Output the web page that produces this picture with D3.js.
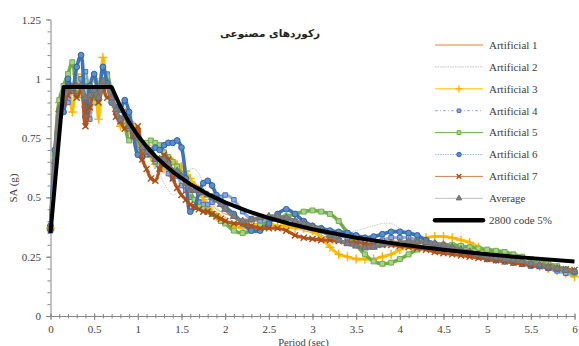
<!DOCTYPE html>
<html>
<head>
<meta charset="utf-8">
<script src="https://cdn.jsdelivr.net/npm/d3@7"></script>
<style>
  html, body { margin: 0; padding: 0; background: #fff; }
  svg { display: block; }
</style>
</head>
<body>
<svg id="chart" width="579" height="346"></svg>
<script>
// Spectral acceleration (g) vs period (s) for seven artificial records, their mean and the 2800 code spectrum
const periods = [
  0, 0.05, 0.1, 0.15, 0.2, 0.25, 0.3, 0.35, 0.4, 0.45, 0.5, 0.55, 0.6, 0.65, 0.7, 0.75, 0.8, 0.85, 0.9, 0.95,
  1.0, 1.05, 1.1, 1.15, 1.2, 1.25, 1.3, 1.35, 1.4, 1.45, 1.5, 1.55, 1.6, 1.65, 1.7, 1.75, 1.8, 1.85, 1.9, 1.95, 2.0,
  2.1, 2.2, 2.3, 2.4, 2.5, 2.6, 2.7, 2.8, 2.9, 3.0, 3.1, 3.2, 3.3, 3.4, 3.5, 3.6, 3.7, 3.8, 3.9, 4.0,
  4.1, 4.2, 4.3, 4.4, 4.5, 4.6, 4.7, 4.8, 4.9, 5.0, 5.1, 5.2, 5.3, 5.4, 5.5, 5.6, 5.7, 5.8, 5.9, 6.0
];

const artificial1 = [
  0.37, 0.64, 0.88, 0.95, 0.97, 0.93, 1.00, 0.96, 0.92, 0.98, 0.94, 0.90, 0.97, 0.99, 0.93, 0.86, 0.84, 0.88, 0.80, 0.82,
  0.77, 0.74, 0.70, 0.72, 0.66, 0.64, 0.68, 0.62, 0.60, 0.58, 0.57, 0.55, 0.53, 0.56, 0.54, 0.50, 0.48, 0.47, 0.45, 0.44, 0.43,
  0.42, 0.41, 0.42, 0.43, 0.42, 0.40, 0.38, 0.37, 0.36, 0.35, 0.34, 0.33, 0.32, 0.31, 0.30, 0.30, 0.31, 0.32, 0.32, 0.31,
  0.30, 0.30, 0.31, 0.31, 0.30, 0.29, 0.28, 0.28, 0.27, 0.26, 0.25, 0.24, 0.24, 0.23, 0.22, 0.21, 0.21, 0.20, 0.19, 0.18
];
const artificial2 = [
  0.36, 0.62, 0.86, 0.93, 0.95, 0.99, 0.94, 0.97, 1.01, 0.95, 0.92, 0.98, 0.94, 0.90, 0.95, 0.90, 0.86, 0.82, 0.85, 0.78,
  0.76, 0.72, 0.70, 0.66, 0.62, 0.60, 0.56, 0.53, 0.51, 0.52, 0.56, 0.60, 0.62, 0.62, 0.60, 0.56, 0.52, 0.49, 0.46, 0.44, 0.42,
  0.40, 0.39, 0.40, 0.41, 0.42, 0.42, 0.41, 0.40, 0.38, 0.37, 0.36, 0.35, 0.35, 0.35, 0.36, 0.37, 0.38, 0.39, 0.39, 0.37,
  0.35, 0.33, 0.32, 0.31, 0.30, 0.29, 0.28, 0.27, 0.26, 0.25, 0.24, 0.23, 0.23, 0.22, 0.21, 0.21, 0.20, 0.19, 0.19, 0.18
];
const artificial3 = [
  0.37, 0.66, 0.90, 0.92, 0.98, 0.86, 1.02, 0.94, 0.88, 0.96, 1.00, 0.83, 1.09, 0.97, 0.92, 0.88, 0.80, 0.84, 0.78, 0.80,
  0.74, 0.70, 0.72, 0.67, 0.64, 0.66, 0.62, 0.64, 0.65, 0.64, 0.63, 0.61, 0.58, 0.55, 0.52, 0.49, 0.46, 0.44, 0.42, 0.41, 0.40,
  0.38, 0.37, 0.38, 0.39, 0.39, 0.38, 0.38, 0.37, 0.37, 0.36, 0.33, 0.29, 0.26, 0.25, 0.24, 0.24, 0.24, 0.25, 0.26, 0.28,
  0.30, 0.32, 0.33, 0.335, 0.335, 0.33, 0.32, 0.31, 0.29, 0.27, 0.26, 0.25, 0.24, 0.23, 0.22, 0.21, 0.20, 0.19, 0.18, 0.165
];
const artificial4 = [
  0.36, 0.63, 0.87, 0.94, 0.90, 0.97, 0.93, 1.00, 1.03, 0.83, 0.95, 0.92, 0.98, 1.02, 0.90, 0.87, 0.82, 0.86, 0.79, 0.76,
  0.78, 0.72, 0.68, 0.70, 0.65, 0.62, 0.64, 0.60, 0.58, 0.59, 0.55, 0.53, 0.50, 0.49, 0.48, 0.47, 0.47, 0.48, 0.49, 0.50, 0.51,
  0.49, 0.44, 0.41, 0.40, 0.41, 0.42, 0.41, 0.40, 0.38, 0.37, 0.36, 0.35, 0.34, 0.33, 0.32, 0.31, 0.31, 0.32, 0.33, 0.33,
  0.33, 0.32, 0.31, 0.30, 0.29, 0.28, 0.27, 0.27, 0.26, 0.25, 0.24, 0.23, 0.23, 0.22, 0.21, 0.21, 0.20, 0.19, 0.18, 0.18
];
const artificial5 = [
  0.38, 0.68, 0.91, 0.97, 1.02, 1.07, 0.96, 0.93, 0.99, 0.94, 0.90, 0.98, 0.95, 1.01, 0.94, 0.86, 0.83, 0.80, 0.74, 0.76,
  0.70, 0.72, 0.73, 0.74, 0.73, 0.72, 0.69, 0.67, 0.65, 0.63, 0.60, 0.56, 0.52, 0.49, 0.46, 0.45, 0.44, 0.43, 0.42, 0.40, 0.39,
  0.36, 0.35, 0.36, 0.38, 0.40, 0.41, 0.42, 0.43, 0.44, 0.445, 0.44, 0.43, 0.40, 0.35, 0.30, 0.26, 0.23, 0.22, 0.225, 0.24,
  0.26, 0.28, 0.29, 0.30, 0.30, 0.30, 0.295, 0.29, 0.285, 0.28, 0.275, 0.27, 0.26, 0.25, 0.24, 0.23, 0.22, 0.21, 0.195, 0.18
];
const artificial6 = [
  0.38, 0.70, 0.84, 0.86, 1.00, 0.95, 1.05, 1.10, 0.84, 0.97, 1.02, 0.93, 1.05, 0.98, 0.90, 0.88, 0.87, 0.91, 0.86, 0.76,
  0.68, 0.67, 0.70, 0.69, 0.71, 0.70, 0.72, 0.73, 0.73, 0.74, 0.71, 0.58, 0.44, 0.46, 0.52, 0.56, 0.57, 0.55, 0.51, 0.48, 0.46,
  0.43, 0.39, 0.36, 0.36, 0.39, 0.43, 0.45, 0.43, 0.40, 0.38, 0.37, 0.36, 0.355, 0.35, 0.34, 0.33, 0.335, 0.345, 0.355, 0.355,
  0.35, 0.34, 0.32, 0.305, 0.29, 0.28, 0.27, 0.26, 0.25, 0.24, 0.235, 0.23, 0.225, 0.22, 0.215, 0.21, 0.205, 0.20, 0.195, 0.187
];
const artificial7 = [
  0.37, 0.64, 0.85, 0.90, 0.93, 0.97, 0.92, 0.95, 0.80, 0.88, 0.94, 0.90, 0.96, 0.92, 0.93, 0.84, 0.82, 0.79, 0.81, 0.76,
  0.80, 0.66, 0.62, 0.58, 0.57, 0.62, 0.68, 0.66, 0.58, 0.54, 0.51, 0.49, 0.47, 0.46, 0.45, 0.44, 0.44, 0.43, 0.42, 0.41, 0.40,
  0.39, 0.39, 0.38, 0.37, 0.37, 0.37, 0.36, 0.34, 0.33, 0.325, 0.32, 0.32, 0.315, 0.31, 0.31, 0.305, 0.30, 0.30, 0.30, 0.295,
  0.29, 0.285, 0.28, 0.27, 0.265, 0.26, 0.255, 0.25, 0.245, 0.24, 0.235, 0.23, 0.225, 0.22, 0.215, 0.21, 0.205, 0.20, 0.197, 0.194
];
const average = [
  0.37, 0.65, 0.87, 0.92, 0.96, 0.96, 0.97, 0.97, 0.92, 0.93, 0.95, 0.92, 0.99, 0.97, 0.92, 0.87, 0.83, 0.84, 0.80, 0.78,
  0.75, 0.71, 0.69, 0.68, 0.66, 0.66, 0.66, 0.64, 0.61, 0.61, 0.59, 0.56, 0.53, 0.53, 0.53, 0.52, 0.51, 0.50, 0.49, 0.47, 0.45,
  0.42, 0.40, 0.405, 0.415, 0.42, 0.42, 0.415, 0.40, 0.39, 0.376, 0.36, 0.34, 0.32, 0.305, 0.295, 0.287, 0.29, 0.30, 0.307, 0.31,
  0.313, 0.313, 0.31, 0.305, 0.30, 0.29, 0.28, 0.27, 0.26, 0.252, 0.245, 0.24, 0.236, 0.23, 0.222, 0.215, 0.207, 0.20, 0.193, 0.187
];

// Standard 2800 design spectrum, 5% damping
const codePeriods = [0, 0.15, 0.7, 0.8, 0.9, 1.0, 1.1, 1.2, 1.3, 1.4, 1.5, 1.6, 1.8, 2.0, 2.25, 2.5, 2.75, 3.0, 3.5, 4.0, 4.5, 5.0, 5.5, 6.0];
const codeValues  = [0.35, 0.965, 0.965, 0.883, 0.816, 0.761, 0.714, 0.674, 0.639, 0.608, 0.581, 0.556, 0.514, 0.479, 0.443, 0.413, 0.388, 0.366, 0.330, 0.302, 0.279, 0.260, 0.244, 0.230];

const seriesNames = ["Artificial 1", "Artificial 2", "Artificial 3", "Artificial 4", "Artificial 5", "Artificial 6", "Artificial 7", "Average", "2800 code 5%"];
const xTickValues = [0, 0.5, 1, 1.5, 2, 2.5, 3, 3.5, 4, 4.5, 5, 5.5, 6];
const xTickLabels = ["0", "0.5", "1", "1.5", "2", "2.5", "3", "3.5", "4", "4.5", "5", "5.5", "6"];
const yTickValues = [0, 0.25, 0.5, 0.75, 1, 1.25];
const yTickLabels = ["0", "0.25", "0.5", "0.75", "1", "1.25"];
const chartTitle = "رکوردهای مصنوعی";
const xTitle = "Period (sec)";
const yTitle = "SA (g)";

const seriesData = [artificial1, artificial2, artificial3, artificial4, artificial5, artificial6, artificial7, average];

// Visual style of each record
const styles = [
  { line: "#ED7D31", width: 0.8, dash: null, marker: null },
  { line: "#BFBFBF", width: 0.9, dash: "1.5,1", marker: null },
  { line: "#FFC000", width: 3.0, legendDash: null, marker: "plus", mColor: "#FFB000", mFill: "#FFC000", size: 28 },
  { line: "#8FAADC", width: 3.0, legendDash: "3,2,1,2", marker: "square", mColor: "#4472C4", mFill: "#8FAADC", size: 20 },
  { line: "#70AD47", width: 3.6, legendDash: null, marker: "square", mColor: "#70AD47", mFill: "#A9D18E", size: 24 },
  { line: "#3E74B6", width: 3.6, legendDash: "1.5,1", legendLine: "#9DC3E6", marker: "circle", mColor: "#2E64A6", mFill: "#5B8FCB", size: 26 },
  { line: "#B8561C", width: 3.2, legendDash: null, legendLine: "#C9825A", marker: "x", mColor: "#A84F16", mFill: "none", size: 26 },
  { line: "#7F7F7F", width: 4.0, legendDash: null, legendLine: "#BFBFBF", marker: "triangle", mColor: "#6E6E6E", mFill: "#7F7F7F", size: 22 }
];

const svg = d3.select("#chart");
const x = d3.scaleLinear().domain([0, 6]).range([50.5, 574.5]);
const y = d3.scaleLinear().domain([0, 1.25]).range([316, 19.5]);
const axisColor = "#868686";
const textColor = "#404040";
const serif = "'Liberation Serif', 'Times New Roman', serif";

// Axes: major ticks with labels and unlabeled minor ticks
const minorY = d3.range(0, 1.2501, 0.05);
const minorX = d3.range(0, 6.0001, 0.1);

const gy = svg.append("g").attr("transform", "translate(50.5,0)");
gy.call(d3.axisLeft(y).tickValues([]).tickSizeOuter(0));
gy.append("g").call(d3.axisLeft(y).tickValues(minorY).tickSize(3).tickFormat("")).call(g => g.select(".domain").remove());
gy.append("g").call(d3.axisLeft(y).tickValues(yTickValues).tickSize(4.5).tickPadding(5)
  .tickFormat((d, i) => yTickLabels[i])).call(g => g.select(".domain").remove());
gy.selectAll("path, line").attr("stroke", axisColor);
gy.selectAll("text").attr("font-family", serif).attr("font-size", 11).attr("fill", textColor);

const gx = svg.append("g").attr("transform", "translate(0,316)");
gx.call(d3.axisBottom(x).tickValues([]).tickSizeOuter(0));
gx.append("g").call(d3.axisBottom(x).tickValues(minorX).tickSize(2.5).tickFormat(""))
  .call(g => g.select(".domain").remove())
  .call(g => g.selectAll(".tick line").attr("y1", -2));
gx.append("g").call(d3.axisBottom(x).tickValues(xTickValues).tickSize(4).tickPadding(5)
  .tickFormat((d, i) => xTickLabels[i]))
  .call(g => g.select(".domain").remove())
  .call(g => g.selectAll(".tick line").attr("y1", -2.5));
gx.selectAll("path, line").attr("stroke", axisColor);
gx.selectAll("text").attr("font-family", serif).attr("font-size", 11).attr("fill", textColor);

// Axis titles and chart title
svg.append("text").attr("x", 303.5).attr("y", 345.5).attr("text-anchor", "middle")
  .attr("font-family", serif).attr("font-size", 10.5).attr("fill", textColor).text(xTitle);
svg.append("text").attr("transform", "translate(16.5,188) rotate(-90)").attr("text-anchor", "middle")
  .attr("font-family", serif).attr("font-size", 11).attr("fill", textColor).text(yTitle);
svg.append("text").attr("x", 270).attr("y", 37).attr("text-anchor", "middle")
  .attr("direction", "rtl").attr("font-family", "'DejaVu Sans', 'Noto Sans', sans-serif")
  .attr("font-size", 10.5).attr("font-weight", "bold").attr("fill", "#222").text(chartTitle);

// Marker shapes
function symbolFor(kind) {
  switch (kind) {
    case "plus": return d3.symbolPlus || d3.symbolCross;
    case "square": return d3.symbolSquare;
    case "circle": return d3.symbolCircle;
    case "x": return d3.symbolX || d3.symbolCross;
    case "triangle": return d3.symbolTriangle;
  }
  return d3.symbolCircle;
}
function drawMarker(g, st, px, py) {
  const isStroke = st.marker === "plus" || st.marker === "x";
  g.append("path")
    .attr("d", d3.symbol().type(symbolFor(st.marker)).size(st.size)())
    .attr("transform", `translate(${px},${py})`)
    .attr("fill", isStroke ? "none" : st.mFill)
    .attr("stroke", st.mColor)
    .attr("stroke-width", isStroke ? 1.4 : 1);
}

const line = d3.line()
  .x((d, i) => x(periods[i]))
  .y(d => y(d))
  .curve(d3.curveCatmullRom.alpha(0.5));

const plot = svg.append("g");
seriesData.forEach((vals, k) => {
  const st = styles[k];
  const g = plot.append("g");
  g.append("path").datum(vals).attr("d", line)
    .attr("fill", "none").attr("stroke", st.line).attr("stroke-width", st.width)
    .attr("stroke-dasharray", st.dash || null).attr("stroke-linejoin", "round");
  if (st.marker) {
    vals.forEach((v, i) => drawMarker(g, st, x(periods[i]), y(v)));
  }
});

// Code spectrum on top
svg.append("path").datum(codeValues)
  .attr("d", d3.line().x((d, i) => x(codePeriods[i])).y(d => y(d)))
  .attr("fill", "none").attr("stroke", "#000").attr("stroke-width", 4)
  .attr("stroke-linejoin", "round");

// Legend
const legend = svg.append("g");
seriesNames.forEach((name, k) => {
  const ly = 45 + k * 21.9;
  const g = legend.append("g");
  if (k < styles.length) {
    const st = styles[k];
    g.append("line").attr("x1", 435).attr("x2", 483).attr("y1", ly).attr("y2", ly)
      .attr("stroke", st.legendLine || st.line).attr("stroke-width", 1)
      .attr("stroke-dasharray", (st.marker ? st.legendDash : st.dash) || null);
    if (st.marker) drawMarker(g, Object.assign({}, st, { size: st.size * 0.6 }), 459, ly);
  } else {
    g.append("line").attr("x1", 435).attr("x2", 483).attr("y1", ly).attr("y2", ly)
      .attr("stroke", "#000").attr("stroke-width", 4.5).attr("stroke-linecap", "round");
  }
  g.append("text").attr("x", 489).attr("y", ly).attr("dy", "0.35em")
    .attr("font-family", serif).attr("font-size", 11).attr("fill", textColor).text(name);
});
</script>
</body>
</html>
